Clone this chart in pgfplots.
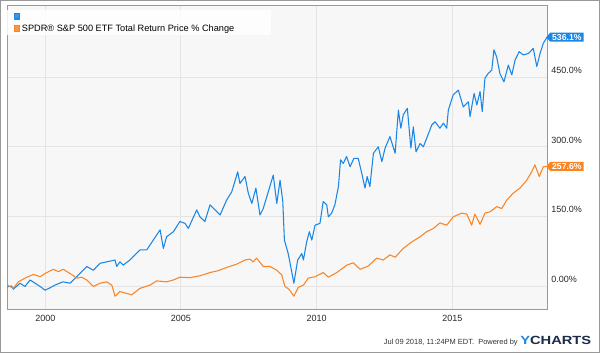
\documentclass[border=0pt]{standalone}
\usepackage{pgfplots}
\pgfplotsset{compat=1.18}
\usepackage{graphicx}
\usepackage{fontspec}
\setmainfont{Liberation Sans}
\usetikzlibrary{shapes.symbols}
\definecolor{ybl}{HTML}{1A87E6}
\definecolor{yor}{HTML}{FA8525}
\definecolor{frm}{HTML}{999999}
\definecolor{grd}{HTML}{E4E4E4}
\definecolor{bgc}{HTML}{F7F7F7}
\definecolor{navy}{HTML}{1B2B48}
\begin{document}
\begin{tikzpicture}
\path[use as bounding box] (0,0) rectangle (450pt,264.75pt);
\draw[frm, line width=0.75pt] (0.375pt,0.375pt) rectangle (449.625pt,264.375pt);
\begin{axis}[
  at={(5.25pt,32.25pt)}, anchor=south west,
  scale only axis, width=405pt, height=228pt,
  xmin=1998.589, xmax=2018.486, ymin=-51.7, ymax=603.4,
  axis background/.style={fill=bgc},
  axis line style={frm, line width=0.75pt},
  grid=major, major grid style={grd, line width=0.75pt},
  major tick length=0pt,
  xtick={2000,2005,2010,2015},
  xticklabels={2000,2005,2010,2015},
  ytick={0,150,300,450},
  yticklabels={0.00\%,150.0\%,300.0\%,450.0\%},
  yticklabel pos=right,
  tick label style={font=\fontsize{6.75}{8}\selectfont, text=black!85},
  xticklabel style={anchor=north, inner sep=0pt, yshift=-3.5pt},
  yticklabel style={anchor=west, inner sep=0pt, xshift=3pt, yshift=4.9pt},
  /pgf/number format/assume math mode=true,
  clip=false,
  legend cell align=left,
  legend image code/.code={\fill[#1] (0pt,-2.1pt) rectangle (4.2pt,2.1pt);},
  legend style={at={(0,1)}, anchor=north west, yshift=-3pt, draw=none,
    fill=white, fill opacity=0.85, text opacity=1,
    inner xsep=4.8pt, inner ysep=0pt, row sep=0.5pt,
    font=\fontsize{6.9}{8}\selectfont,
    nodes={inner sep=1.2pt, text height=5pt, text depth=1.5pt}},
]
\addplot[ybl, line width=0.8pt, line join=round] coordinates {
(1998.60,-1.5) (1998.76,0) (1998.82,-7) (1999.07,6) (1999.25,-1) (1999.44,13) (1999.81,-1) (1999.99,-9) (2000.17,-4) (2000.36,2) (2000.65,9) (2000.91,6) (2001.16,20) (2001.53,42) (2001.77,34) (2002.02,49) (2002.26,52) (2002.57,56) (2002.63,42) (2002.75,52) (2002.87,45) (2003.12,56) (2003.49,78) (2003.74,78) (2003.98,99) (2004.23,121) (2004.35,81) (2004.47,106) (2004.72,117) (2004.96,139) (2005.15,135) (2005.27,124) (2005.58,164) (2005.70,149) (2005.88,139) (2006.07,175) (2006.25,164) (2006.44,153) (2006.68,185) (2006.87,203) (2007.09,246) (2007.17,221) (2007.36,236) (2007.48,200) (2007.61,178) (2007.76,211) (2007.91,153) (2008.03,167) (2008.16,192) (2008.40,239) (2008.53,178) (2008.65,228) (2008.75,183) (2008.81,99) (2008.95,70) (2009.02,49) (2009.16,6) (2009.26,42) (2009.30,56) (2009.45,70) (2009.51,56) (2009.63,95) (2009.73,117) (2009.82,99) (2009.94,131) (2010.12,135) (2010.24,182) (2010.37,175) (2010.43,149) (2010.55,157) (2010.67,175) (2010.80,214) (2010.88,272) (2010.98,264) (2011.10,279) (2011.23,257) (2011.37,275) (2011.53,275) (2011.66,243) (2011.78,211) (2011.86,236) (2011.96,214) (2012.09,286) (2012.27,300) (2012.40,268) (2012.52,297) (2012.70,322) (2012.89,286) (2013.01,379) (2013.10,340) (2013.19,369) (2013.34,383) (2013.47,297) (2013.56,343) (2013.66,289) (2013.81,307) (2013.93,300) (2014.05,318) (2014.24,347) (2014.36,354) (2014.54,340) (2014.67,351) (2014.79,340) (2014.85,379) (2015.03,412) (2015.22,422) (2015.40,386) (2015.59,397) (2015.65,365) (2015.80,415) (2015.90,390) (2016.02,419) (2016.10,376) (2016.20,448) (2016.32,458) (2016.45,465) (2016.53,509) (2016.63,494) (2016.75,458) (2016.90,440) (2017.06,476) (2017.19,455) (2017.31,487) (2017.46,505) (2017.61,498) (2017.80,501) (2017.98,512) (2018.11,473) (2018.23,501) (2018.35,523) (2018.486,536.1)
};
\addlegendentry{\mbox{}}
\addplot[yor, line width=0.8pt, line join=round] coordinates {
(1998.60,2) (1998.82,-5) (1999.01,9) (1999.25,17) (1999.56,25) (1999.81,20) (1999.99,27) (2000.30,36) (2000.48,31) (2000.66,36) (2000.91,27) (2001.16,17) (2001.34,19) (2001.53,13) (2001.77,-1) (2002.02,6) (2002.26,9) (2002.45,2) (2002.57,-22) (2002.75,-12) (2003.00,-16) (2003.18,-19) (2003.49,-5) (2003.86,2) (2004.10,11) (2004.47,9) (2004.72,13) (2004.96,19) (2005.33,18) (2005.70,22) (2006.07,29) (2006.37,33) (2006.68,40) (2007.05,47) (2007.36,56) (2007.54,58) (2007.66,52) (2007.79,60) (2008.03,42) (2008.28,42) (2008.53,34) (2008.71,24) (2008.83,-1) (2008.98,-7) (2009.16,-22) (2009.32,-3) (2009.51,2) (2009.69,17) (2009.94,20) (2010.24,29) (2010.43,19) (2010.74,29) (2011.11,45) (2011.35,50) (2011.60,36) (2011.90,43) (2012.21,60) (2012.45,56) (2012.70,67) (2012.89,62) (2013.19,81) (2013.50,95) (2013.81,106) (2014.05,117) (2014.30,124) (2014.54,136) (2014.79,131) (2015.03,149) (2015.34,157) (2015.53,155) (2015.71,131) (2015.83,155) (2016.02,133) (2016.20,157) (2016.39,160) (2016.63,171) (2016.82,167) (2017.00,185) (2017.24,200) (2017.49,211) (2017.74,228) (2017.92,246) (2018.04,261) (2018.20,236) (2018.35,257) (2018.486,257.6)
};
\addlegendentry{SPDR® S\&P 500 ETF Total Return Price \% Change\hspace*{21.75pt}}
\node[signal, signal to=west, signal pointer angle=100, fill=ybl, text=white,
  font=\bfseries\fontsize{6.5}{7}\selectfont, inner xsep=1.5pt, inner ysep=0pt,
  minimum height=6.75pt, anchor=west] at (axis cs:2018.45,536.1) {536.1\%};
\node[signal, signal to=west, signal pointer angle=100, fill=yor, text=white,
  font=\bfseries\fontsize{6.5}{7}\selectfont, inner xsep=1.5pt, inner ysep=0pt,
  minimum height=6.75pt, anchor=west] at (axis cs:2018.45,257.6) {257.6\%};
\end{axis}
\node[anchor=base east, inner sep=0pt, font=\fontsize{5.6}{6}\selectfont, text=black!80] at (388.5pt,6pt) {Jul 09 2018, 11:24PM EDT.\ \ Powered by};
\node[anchor=base west, inner sep=0pt] at (390pt,6pt) {\resizebox{53.25pt}{6.2pt}{\bfseries\textcolor{ybl}{Y}\textcolor{navy}{CHARTS}}};
\end{tikzpicture}
\end{document}
